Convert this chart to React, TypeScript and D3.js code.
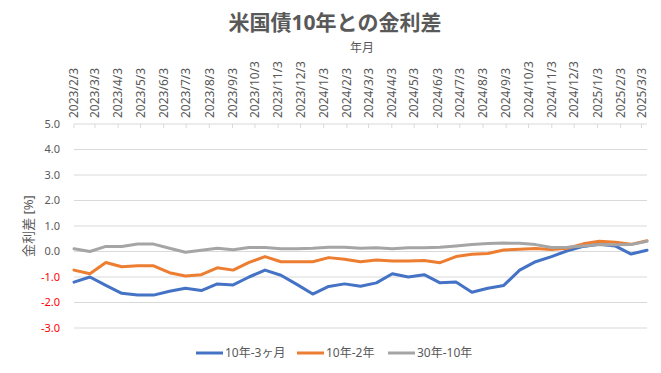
import React from "react";
import * as d3 from "d3";

const tickLabels = [
  "2023/2/3", "2023/3/3", "2023/4/3", "2023/5/3", "2023/6/3", "2023/7/3", "2023/8/3",
  "2023/9/3", "2023/10/3", "2023/11/3", "2023/12/3", "2024/1/3", "2024/2/3", "2024/3/3",
  "2024/4/3", "2024/5/3", "2024/6/3", "2024/7/3", "2024/8/3", "2024/9/3", "2024/10/3",
  "2024/11/3", "2024/12/3", "2025/1/3", "2025/2/3", "2025/3/3",
];

const yTicks = [5, 4, 3, 2, 1, 0, -1, -2, -3];

const seriesNames = ["10年-3ヶ月", "10年-2年", "30年-10年"];
const seriesColors = ["#4472C4", "#ED7D31", "#A5A5A5"];

const spread10y3m = [
  -1.2, -1.0, -1.33, -1.64, -1.71, -1.71, -1.56, -1.44, -1.53, -1.27,
  -1.31, -1.0, -0.73, -0.93, -1.29, -1.67, -1.37, -1.27, -1.36, -1.23,
  -0.87, -1.0, -0.91, -1.23, -1.2, -1.6, -1.44, -1.33, -0.73, -0.4,
  -0.2, 0.03, 0.2, 0.28, 0.22, -0.1, 0.05,
];

const spread10y2y = [
  -0.73, -0.87, -0.43, -0.6, -0.56, -0.56, -0.83, -0.96, -0.91, -0.64,
  -0.73, -0.43, -0.2, -0.4, -0.4, -0.4, -0.24, -0.3, -0.4, -0.33,
  -0.37, -0.37, -0.35, -0.44, -0.2, -0.11, -0.08, 0.06, 0.09, 0.12,
  0.08, 0.13, 0.3, 0.4, 0.36, 0.28, 0.42,
];

const spread30y10y = [
  0.11, 0.0, 0.2, 0.2, 0.29, 0.29, 0.13, -0.03, 0.05, 0.13,
  0.07, 0.16, 0.16, 0.11, 0.11, 0.13, 0.17, 0.17, 0.13, 0.15,
  0.11, 0.15, 0.15, 0.17, 0.22, 0.27, 0.31, 0.33, 0.32, 0.27,
  0.16, 0.17, 0.22, 0.27, 0.26, 0.27, 0.4,
];

const allSeries = [spread10y3m, spread10y2y, spread30y10y];

const W = 661;
const H = 373;
const FONT = '"Noto Sans", "Noto Sans CJK JP", sans-serif';
const TEXT = "#595959";

export default function App() {
  const left = 74;
  const right = 647;
  const top = 124;
  const bottom = 328;

  const parse = d3.timeParse("%Y/%m/%d");
  const tickDates = tickLabels.map((t) => parse(t) as Date);
  const xTime = d3
    .scaleTime()
    .domain([tickDates[0], tickDates[tickDates.length - 1]])
    .range([left, 641.5]);

  const n = spread10y3m.length;
  const xIdx = d3.scaleLinear().domain([0, n - 1]).range([left, right]);
  const y = d3.scaleLinear().domain([-3, 5]).range([bottom, top]);

  const line = d3
    .line<number>()
    .x((_, i) => xIdx(i))
    .y((d) => y(d));

  const legendX = [196, 297, 388];
  const legendY = 353;

  return (
    <svg
      width={W}
      height={H}
      style={{ position: "absolute", left: 0, top: 0, background: "#fff" }}
      fontFamily={FONT}
    >
      <rect x={0} y={0} width={W} height={H} fill="#fff" />
      <text
        x={335}
        y={30}
        textAnchor="middle"
        fontSize={21}
        fontWeight="bold"
        fill={TEXT}
      >
        米国債10年との金利差
      </text>
      <text x={362} y={52} textAnchor="middle" fontSize={12} fill={TEXT}>
        年月
      </text>

      {/* gridlines */}
      {yTicks.map((t) => (
        <line
          key={t}
          x1={left}
          x2={right}
          y1={y(t)}
          y2={y(t)}
          stroke="#D9D9D9"
          strokeWidth={1}
        />
      ))}

      {/* top axis ticks & labels */}
      {tickDates.map((d, i) => {
        const xx = xTime(d);
        return (
          <g key={tickLabels[i]}>
            <line x1={xx} x2={xx} y1={y(5)} y2={y(5) + 4} stroke="#D9D9D9" />
            <text
              transform={`translate(${xx},${top - 6}) rotate(-90)`}
              textAnchor="start"
              dy="0.35em"
              fontSize={12}
              fill={TEXT}
            >
              {tickLabels[i]}
            </text>
          </g>
        );
      })}

      {/* y tick labels */}
      {yTicks.map((t) => (
        <text
          key={t}
          x={60}
          y={y(t)}
          dy="0.35em"
          textAnchor="end"
          fontSize={11}
          fill={t < 0 ? "#FF0000" : TEXT}
        >
          {t.toFixed(1)}
        </text>
      ))}

      <text
        transform={`translate(28,${(top + bottom) / 2}) rotate(-90)`}
        textAnchor="middle"
        dy="0.35em"
        fontSize={13}
        fill={TEXT}
      >
        金利差 [%]
      </text>

      {/* series */}
      {allSeries.map((s, i) => (
        <path
          key={i}
          d={line(s) || ""}
          fill="none"
          stroke={seriesColors[i]}
          strokeWidth={3}
          strokeLinejoin="round"
          strokeLinecap="round"
        />
      ))}

      {/* legend */}
      {seriesNames.map((name, i) => (
        <g key={name}>
          <line
            x1={legendX[i]}
            x2={legendX[i] + 27}
            y1={legendY}
            y2={legendY}
            stroke={seriesColors[i]}
            strokeWidth={3}
          />
          <text
            x={legendX[i] + 29}
            y={legendY}
            dy="0.35em"
            fontSize={12}
            fill={TEXT}
          >
            {name}
          </text>
        </g>
      ))}
    </svg>
  );
}
